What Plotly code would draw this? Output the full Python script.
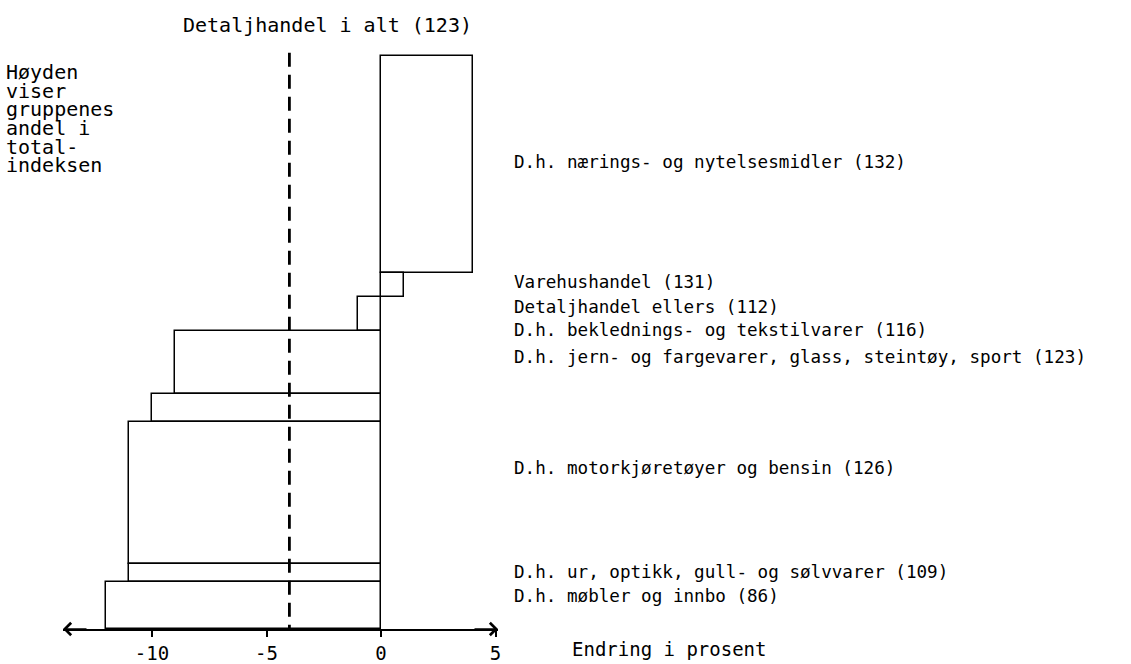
import plotly.graph_objects as go

# ---------------- data ----------------
categories = [
    "D.h. nærings- og nytelsesmidler (132)",
    "Varehushandel (131)",
    "Detaljhandel ellers (112)",
    "D.h. beklednings- og tekstilvarer (116)",
    "D.h. jern- og fargevarer, glass, steintøy, sport (123)",
    "D.h. motorkjøretøyer og bensin (126)",
    "D.h. ur, optikk, gull- og sølvvarer (109)",
    "D.h. møbler og innbo (86)",
]
changes = [4, 1, -1, -9, -10, -11, -11, -12]          # endring i prosent
shares = [38.0, 4.1, 5.9, 11.0, 5.0, 24.8, 3.1, 8.2]  # andel i totalindeksen
total_label = "Detaljhandel i alt (123)"
total_change = -4
tick_values = [-10, -5, 0, 5]
tick_labels = ["-10", "-5", "0", "5"]
note_lines = ["Høyden", "viser", "gruppenes", "andel i", "total-", "indeksen"]
x_title = "Endring i prosent"

# ---------------- layout geometry ----------------
W, H = 1131, 664
FONT = "DejaVu Sans Mono"
PL, PR = 63, 498          # plot area left/right (pixels)
PB = 631                  # plot area bottom (axis) pixel
BAR_TOP_PX = 56
ZERO_PX, PX_PER_PCT = 381, 22.9

S = sum(shares)
py_per_unit = (PB - BAR_TOP_PX) / S
x_range = [(PL - ZERO_PX) / PX_PER_PCT, (PR - ZERO_PX) / PX_PER_PCT]
y_range = [S, -BAR_TOP_PX / py_per_unit]

tops = []
acc = 0.0
for s in shares:
    tops.append(acc)
    acc += s
centers = [t + s / 2 for t, s in zip(tops, shares)]


def px_x(px):
    return (px - PL) / (PR - PL)


def px_y(py):
    return (PB - py) / PB


fig = go.Figure()
fig.add_trace(go.Bar(
    y=centers, x=changes, width=shares, orientation="h",
    marker=dict(color="white", line=dict(color="black", width=1.5)),
    hoverinfo="skip", showlegend=False,
))

# total change dashed line
fig.add_shape(type="line", xref="x", yref="y",
              x0=total_change, x1=total_change,
              y0=-3 / py_per_unit, y1=S,
              line=dict(color="black", width=2.8, dash="14px,8px"))

ann = []
# category labels (placed for readability like the original)
label_px = [163, 283, 308, 331, 358, 469, 574, 598]
for txt, py in zip(categories, label_px):
    ann.append(dict(text=txt, xref="paper", yref="paper", x=px_x(512), y=px_y(py),
                    xanchor="left", yanchor="middle", showarrow=False,
                    font=dict(family=FONT, size=17.6, color="black")))
# title of total
ann.append(dict(text=total_label, xref="paper", yref="paper", x=px_x(181), y=px_y(25),
                xanchor="left", yanchor="middle", showarrow=False,
                font=dict(family=FONT, size=20, color="black")))
# left note
note_px = [72, 90.8, 109.6, 128.4, 147.2, 166]
for txt, py in zip(note_lines, note_px):
    ann.append(dict(text=txt, xref="paper", yref="paper", x=px_x(4), y=px_y(py),
                    xanchor="left", yanchor="middle", showarrow=False,
                    font=dict(family=FONT, size=20, color="black")))
# axis title
ann.append(dict(text=x_title, xref="paper", yref="paper", x=px_x(570), y=px_y(651),
                xanchor="left", yanchor="middle", showarrow=False,
                font=dict(family=FONT, size=19, color="black")))
# arrow heads on the axis
for xp, axp in [(0, 25), (1, -25)]:
    ann.append(dict(text="", xref="paper", yref="paper", x=xp, y=0,
                    ax=axp, ay=0, showarrow=True, arrowhead=4, arrowsize=1.6,
                    arrowwidth=1.5, arrowcolor="black", standoff=0))

fig.update_layout(
    width=W, height=H,
    margin=dict(l=PL, r=W - PR, t=0, b=H - PB, pad=0),
    paper_bgcolor="white", plot_bgcolor="white",
    annotations=ann, bargap=0,
    xaxis=dict(range=x_range, showline=True, linecolor="black", linewidth=1.5,
               ticks="outside", ticklen=6, tickwidth=1.5, tickcolor="black",
               tickvals=tick_values, ticktext=tick_labels,
               tickfont=dict(family=FONT, size=19, color="black"),
               showgrid=False, zeroline=False, fixedrange=True),
    yaxis=dict(range=y_range, visible=False, showgrid=False, zeroline=False,
               fixedrange=True),
    showlegend=False,
)

fig.write_html("out.html", config={"displayModeBar": False},
               post_script="document.body.style.margin='0px';")
